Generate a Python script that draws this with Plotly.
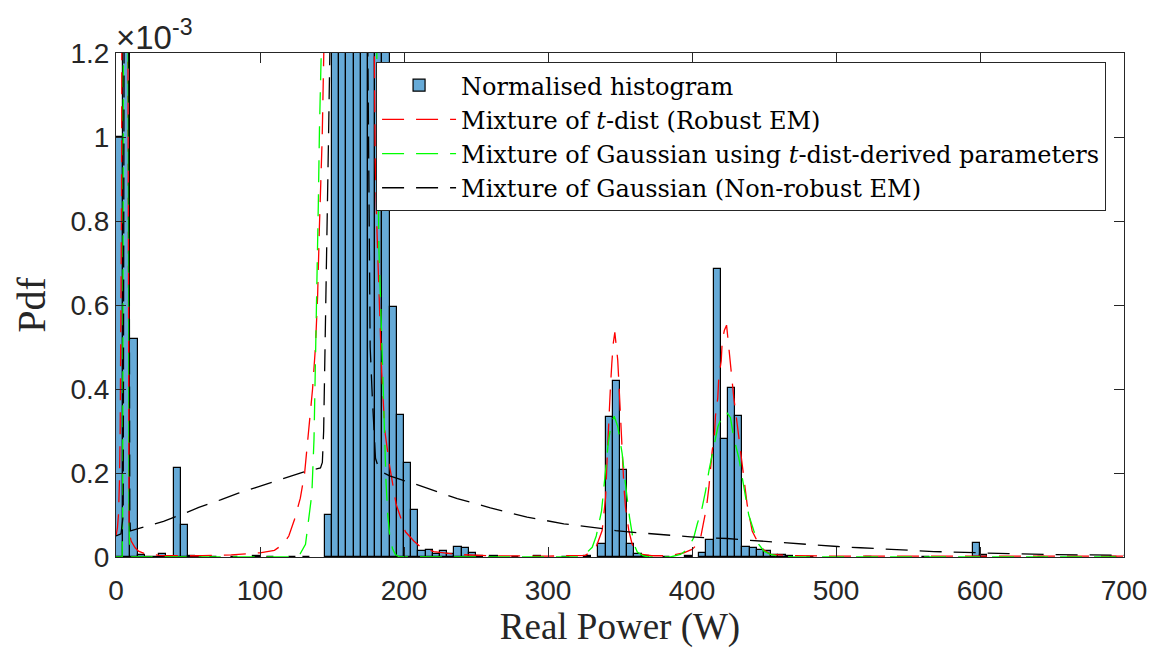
import plotly.graph_objects as go

# ---------------- data (pdf values are in units of 1e-3) ----------------
bin_width = 5
hist_bin_start = [0, 5, 10, 15, 20, 25, 30, 35, 40, 45, 50, 55, 65, 80, 95, 105, 120, 130,
                  145, 150, 155, 160, 165, 170, 175, 180, 185, 190, 195, 200, 205, 210, 215,
                  220, 225, 230, 235, 240, 245, 250, 260, 275, 290, 310, 325,
                  335, 340, 345, 350, 355, 360, 365, 380, 395,
                  405, 410, 415, 420, 425, 430, 435, 440, 445, 450, 455, 460, 465, 480,
                  520, 560, 595, 600, 640, 690]
hist_pdf = [1.0, 60.0, 0.52, 0.004, 0.001, 0.001, 0.006, 0.001, 0.213, 0.077, 0.002, 0.001, 0.001,
            0.001, 0.002, 0.001, 0.001, 0.001,
            0.10, 8.0, 16.0, 24.0, 22.0, 16.0, 10.0, 5.0, 2.4, 0.595, 0.337, 0.223, 0.112, 0.015,
            0.017, 0.008, 0.014, 0.008, 0.025, 0.021, 0.010, 0.003, 0.002, 0.001, 0.002, 0.001,
            0.002,
            0.032, 0.334, 0.42, 0.206, 0.032, 0.008, 0.002, 0.001, 0.002,
            0.010, 0.040, 0.686, 0.282, 0.402, 0.336, 0.024, 0.021, 0.017, 0.014, 0.005, 0.005,
            0.002, 0.001, 0.001, 0.001, 0.034, 0.004, 0.001, 0.001]

t_mix_w = [0, 1.0, 1.7, 2.4, 2.9, 3.3, 3.6, 3.85, 4.05, 4.4, 5.0, 6.0, 7.0, 7.6, 8.0, 8.2, 8.4,
           8.6, 9.1, 10.5, 13.3, 15.6, 20, 30, 40, 60, 80, 100, 110, 116, 120, 124, 128, 131,
           134, 136.5, 138.5, 140, 141.2, 142.3, 143.2, 144.3, 146, 152, 162, 172, 178, 179.3,
           180, 181, 182.6, 184.5, 186.7, 190, 194.6, 201, 206.8, 211.5, 220.7, 237, 260, 300,
           326, 333, 337.6, 340, 341.1, 342.2, 343.3, 344.3, 345.3, 346.4, 347.4, 348.4, 349.3,
           350.3, 351.5, 352.7, 353.8, 356.1, 358.5, 360.8, 365.4, 372, 380, 387.4, 394.3, 400,
           403.6, 406, 407.8, 410, 411.7, 412.8, 414, 415.6, 416.3, 417.9, 418.6, 420.3, 421,
           422.5, 424, 425.6, 427.2, 429, 431.4, 433.7, 436, 438.3, 441.8, 447.6, 454.5, 471,
           500, 600, 700]
t_mix_pdf = [0.05, 0.07, 0.1, 0.18, 0.3, 0.45, 0.6, 0.85, 1.2, 1.8, 3.0, 4.5, 4.0, 2.5, 1.6, 1.2,
             0.6, 0.2, 0.06, 0.038, 0.022, 0.014, 0.008, 0.004, 0.003, 0.003, 0.005, 0.01, 0.016,
             0.03, 0.05, 0.09, 0.14, 0.2, 0.3, 0.4, 0.5, 0.62, 0.78, 0.9, 1.0, 1.2, 1.7, 2.6,
             3.0, 2.6, 1.8, 1.2, 0.95, 0.8, 0.61, 0.44, 0.30, 0.217, 0.125, 0.06, 0.038, 0.024,
             0.013, 0.006, 0.003, 0.002,
             0.004, 0.02, 0.063, 0.142, 0.238, 0.33, 0.40, 0.46, 0.508, 0.535, 0.508, 0.47,
             0.41, 0.33, 0.23, 0.17, 0.119, 0.063, 0.03, 0.016, 0.006, 0.003, 0.003, 0.005,
             0.01, 0.018, 0.03, 0.046, 0.078, 0.117, 0.165, 0.213, 0.252, 0.292, 0.336, 0.379,
             0.427, 0.467, 0.514, 0.54, 0.552, 0.498, 0.443, 0.38, 0.316, 0.252, 0.189, 0.125,
             0.062, 0.022, 0.0064, 0.003, 0.002, 0.002, 0.002]

gauss_t_w = [0, 4.3, 4.6, 4.8, 5.0, 5.4, 6.5, 7.6, 8.3, 8.7, 9.1, 9.6, 10.5, 125, 128, 131.6,
             134, 136, 137.5, 138.5, 139.5, 140.5, 141.3, 142.2, 144, 150, 162, 175, 179.5,
             181.1, 181.8, 182.6, 184, 185.3, 186.3, 187.5, 188.7, 190, 192, 194, 197, 322, 325,
             330.7, 333.5, 337.2, 339.5, 341.8, 344, 346, 348.5, 351.5, 353.8, 356.6, 359.6, 362,
             366, 370, 385, 392, 396.7, 401.2, 403.6, 407, 409.4, 412, 415, 418, 421.6, 424,
             426.7, 429, 432.5, 434.9, 437.2, 439.4, 443, 446.4, 450, 454.5, 460, 470, 700]
gauss_t_pdf = [0, 0, 0.1, 0.5, 1.2, 2.5, 4.0, 2.5, 1.2, 0.4, 0.08, 0.01, 0, 0, 0.008, 0.03,
               0.09, 0.15, 0.28, 0.45, 0.64, 0.84, 1.02, 1.2, 1.7, 2.3, 2.6, 2.3, 1.7, 1.2, 0.85,
               0.73, 0.58, 0.42, 0.28, 0.18, 0.10, 0.055, 0.02, 0.006, 0, 0, 0.004, 0.023, 0.05,
               0.11, 0.19, 0.27, 0.32, 0.335, 0.31, 0.246, 0.174, 0.095, 0.031, 0.012, 0.003, 0,
               0, 0.006, 0.018, 0.046, 0.078, 0.117, 0.157, 0.21, 0.26, 0.31, 0.341, 0.345,
               0.332, 0.284, 0.236, 0.189, 0.141, 0.1, 0.062, 0.03, 0.014, 0.006, 0.002, 0, 0]

gauss_em_w = [0, 3.5, 5.0, 5.4, 5.6, 6.2, 7.3, 8.4, 8.9, 9.2, 9.6, 10, 24, 33, 47, 57.5, 72.6,
              85, 97, 107, 121, 131.6, 142, 143.3, 144.2, 145.3, 146.5, 147.6, 148.5, 152, 162,
              172, 175, 175.8, 176.5, 178, 179, 180.2, 182.5, 186, 190, 200, 211, 237, 260,
              285.5, 311, 336.5, 347, 362, 372, 387, 399, 414, 424.5, 439.5, 455, 470, 489, 501,
              517, 527, 542, 553, 568, 579, 595, 605, 620, 646, 671, 700]
gauss_em_pdf = [0.05, 0.055, 0.1, 0.5, 1.2, 3.0, 5.0, 3.0, 1.2, 0.4, 0.1, 0.062, 0.075, 0.085,
                0.103, 0.118, 0.136, 0.152, 0.165, 0.176, 0.193, 0.204, 0.212, 0.225, 0.3, 0.5,
                0.75, 1.0, 1.2, 2.5, 4.0, 2.5, 1.2, 0.8, 0.5, 0.38, 0.3, 0.235, 0.21, 0.2, 0.193,
                0.182, 0.17, 0.139, 0.117, 0.095, 0.079, 0.068, 0.063, 0.058, 0.055, 0.05, 0.048,
                0.045, 0.044, 0.04, 0.036, 0.033, 0.029, 0.025, 0.022, 0.020, 0.017, 0.016,
                0.013, 0.012, 0.010, 0.0095, 0.008, 0.006, 0.005, 0.004]

x_ticks = [0, 100, 200, 300, 400, 500, 600, 700]
y_ticks = [0, 0.2, 0.4, 0.6, 0.8, 1.0, 1.2]
y_tick_text = ["0", "0.2", "0.4", "0.6", "0.8", "1", "1.2"]

# ---------------- figure ----------------
AX = "#262626"
SERIF = "Liberation Serif, Times New Roman, serif"
LEG_SERIF = "DejaVu Serif, Liberation Serif, serif"
SANS = "Liberation Sans, Arial, Helvetica, sans-serif"

fig = go.Figure()
fig.add_trace(go.Bar(
    x=[s + bin_width / 2 for s in hist_bin_start], y=hist_pdf, width=bin_width,
    marker=dict(color="#66AAD7", line=dict(color="#000000", width=1.2)),
    name="Normalised histogram"))
fig.add_trace(go.Scatter(x=t_mix_w, y=t_mix_pdf, mode="lines",
                         line=dict(color="#FF0000", width=1.3, dash="22px,12px"),
                         name="Mixture of <i>t</i>-dist (Robust EM)"))
fig.add_trace(go.Scatter(x=gauss_t_w, y=gauss_t_pdf, mode="lines",
                         line=dict(color="#00FF00", width=1.3, dash="22px,12px"),
                         name="Mixture of Gaussian using <i>t</i>-dist-derived parameters"))
fig.add_trace(go.Scatter(x=gauss_em_w, y=gauss_em_pdf, mode="lines",
                         line=dict(color="#000000", width=1.3, dash="22px,12px"),
                         name="Mixture of Gaussian (Non-robust EM)"))

fig.update_layout(
    width=1161, height=648,
    margin=dict(l=116, r=37, t=53, b=91, autoexpand=False),
    plot_bgcolor="white", paper_bgcolor="white",
    bargap=0,
    showlegend=True,
    legend=dict(x=0.258, y=0.982, xanchor="left", yanchor="top",
                bgcolor="white", bordercolor=AX, borderwidth=1,
                font=dict(family=LEG_SERIF, size=24, color="#000000"),
                itemwidth=74, tracegroupgap=0),
    xaxis=dict(range=[0, 700], tickvals=x_ticks, ticks="inside", ticklen=10,
               tickcolor=AX, showline=True, linecolor=AX, linewidth=1, mirror="ticks",
               showgrid=False, zeroline=False, ticklabelstandoff=8, automargin=False,
               tickfont=dict(family=SANS, size=28, color=AX),
               title=dict(text="Real Power (W)", font=dict(family=SERIF, size=37, color=AX),
                          standoff=12)),
    yaxis=dict(range=[0, 1.2], tickvals=y_ticks, ticktext=y_tick_text, ticks="inside",
               ticklen=10, tickcolor=AX, showline=True, linecolor=AX, linewidth=1,
               mirror="ticks", showgrid=False, zeroline=False, automargin=False,
               tickfont=dict(family=SANS, size=28, color=AX),
               title=dict(text="Pdf", font=dict(family=SERIF, size=40, color=AX), standoff=12)),
    annotations=[dict(text="\u00d710<sup>-3</sup>", xref="paper", yref="paper", x=0, y=1,
                      xanchor="left", yanchor="bottom", showarrow=False, xshift=-2, yshift=-5,
                      font=dict(family=SANS, size=33, color=AX))],
)

fig.write_html("out.html")
